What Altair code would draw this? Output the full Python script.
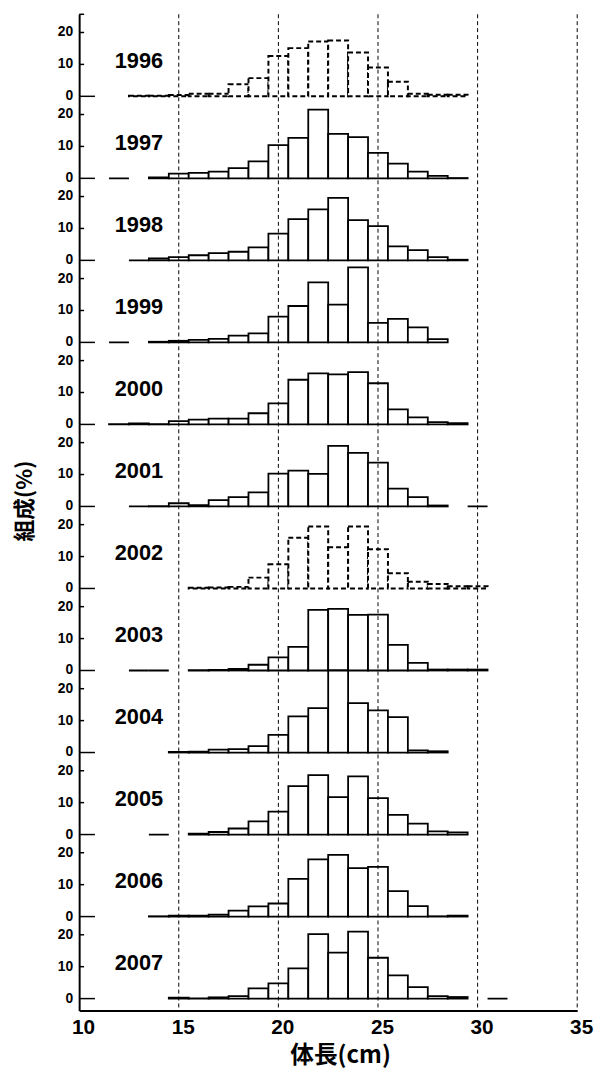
import altair as alt
import pandas as pd

N = None
years = ["1996", "1997", "1998", "1999", "2000", "2001",
         "2002", "2003", "2004", "2005", "2006", "2007"]
dashed_years = ["1996", "2002"]
bins = list(range(12, 32))  # body length class centres (cm)

v1996 = [N, 0.2, 0.2, 0.4, 0.8, 0.8, 3.8, 5.7, 12.6, 15.1, 17.2, 17.5, 13.7, 9.0, 4.6, 0.8, 0.5, 0.5, N, N]
v1997 = [0, N, 0.3, 1.5, 1.7, 2.1, 3.2, 5.3, 10.4, 12.7, 21.5, 13.9, 12.9, 8.0, 4.6, 2.1, 0.8, 0.1, N, N]
v1998 = [N, 0, 0.6, 1.0, 1.6, 2.3, 2.7, 4.1, 8.4, 12.9, 16.0, 19.6, 12.6, 10.7, 4.4, 3.2, 1.0, 0.2, N, N]
v1999 = [0, N, 0.2, 0.5, 0.8, 1.1, 2.1, 2.8, 8.1, 11.4, 18.8, 11.8, 23.5, 6.1, 7.4, 4.7, 1.0, N, N, N]
v2000 = [0.1, 0.3, 0.1, 1.0, 1.5, 1.8, 1.8, 3.5, 6.6, 14.0, 16.0, 15.7, 16.4, 12.9, 4.7, 2.2, 0.7, 0.4, N, N]
v2001 = [N, 0, 0.1, 1.0, 0.4, 2.0, 2.9, 4.4, 10.3, 11.2, 10.2, 19.0, 16.8, 13.7, 5.6, 2.9, 0.3, N, 0, N]
v2002 = [N, N, N, N, 0.2, 0.3, 0.5, 3.4, 7.6, 15.9, 19.4, 12.9, 19.4, 12.3, 4.8, 2.1, 1.4, 0.7, 0.7, N]
v2003 = [N, 0, 0, N, 0.1, 0.2, 0.5, 1.8, 4.1, 7.4, 19.0, 19.3, 17.4, 17.5, 8.0, 2.4, 0.3, 0.3, 0.3, N]
v2004 = [N, N, N, 0.2, 0.3, 0.9, 1.1, 2.0, 5.5, 11.3, 13.9, 25.7, 15.5, 13.2, 11.1, 0.7, 0.4, N, N, N]
v2005 = [N, N, 0, N, 0.3, 0.8, 1.9, 4.1, 7.2, 15.2, 18.6, 11.7, 18.2, 11.4, 6.2, 3.4, 1.0, 0.7, N, N]
v2006 = [N, N, 0.1, 0.3, 0.3, 0.6, 1.9, 3.2, 4.1, 11.8, 17.9, 19.3, 15.2, 15.6, 8.0, 3.3, 0.1, 0.3, N, N]
v2007 = [N, N, N, 0.3, 0.05, 0.4, 0.8, 3.2, 4.8, 9.5, 20.2, 14.4, 21.0, 12.8, 7.3, 3.6, 0.8, 0.5, N, 0]

series = [v1996, v1997, v1998, v1999, v2000, v2001,
          v2002, v2003, v2004, v2005, v2006, v2007]

y_ticks = [0, 10, 20]
x_ticks = [10, 15, 20, 25, 30, 35]
ref_lines = [15, 20, 25, 30, 35]

# ---- layout constants (panel stacking) ----
P = 25.7                     # height of one panel in % units
YMIN, YMAX = -3.7, 12 * P
LABEL_X, LABEL_Y = 13.0, 11.0

offsets = {y: (len(years) - 1 - i) * P for i, y in enumerate(years)}

rows = []
for y, vals in zip(years, series):
    off = offsets[y]
    for b, v in zip(bins, vals):
        if v is None:
            continue
        rows.append({"year": y, "x0": b - 0.5, "x1": b + 0.5,
                     "base": off, "top": off + v,
                     "style": "dashed" if y in dashed_years else "solid"})
bars_df = pd.DataFrame(rows)

labels_df = pd.DataFrame({"year": years,
                          "lx": [LABEL_X] * len(years),
                          "ly": [offsets[y] + LABEL_Y for y in years]})

ytick_df = pd.DataFrame([{"pos": offsets[y] + t, "lab": str(t)} for y in years for t in y_ticks])
short_ticks = sorted([offsets[y] + t for y in years for t in y_ticks if t > 0] + [YMAX])
zero_ticks = sorted([offsets[y] for y in years])

xs = alt.Scale(domain=[10, 35], nice=False, zero=False)
ys = alt.Scale(domain=[YMIN, YMAX], nice=False, zero=False)

x_axis = alt.Axis(values=x_ticks, format="d", ticks=False, tickSize=0, grid=False,
                  domainColor="black", domainWidth=2, labelFlush=False, labelOverlap=False,
                  labelFont="Liberation Sans", labelFontSize=21, labelFontWeight="bold",
                  labelColor="black", labelPadding=6, labelOffset=4,
                  title="体長(cm)", titleFont="Noto Sans CJK JP", titleFontSize=24,
                  titleFontWeight="bold", titleColor="black",
                  titleX=264, titleY=46, titleAlign="center", titleBaseline="middle")
y_axis = alt.Axis(labels=False, ticks=False, tickSize=0, grid=False,
                  domainColor="black", domainWidth=2,
                  title="組成(%)", titleFont="Noto Sans CJK JP", titleFontSize=22,
                  titleFontWeight="bold", titleColor="black", titleAngle=270,
                  titleX=-55, titleY=492, titleAlign="center", titleBaseline="middle")

base = alt.Chart(bars_df)

bars_solid = base.transform_filter(alt.datum.style == "solid").mark_rect(
    fill="white", stroke="black", strokeWidth=1.8).encode(
    x=alt.X("x0:Q", scale=xs, axis=x_axis),
    x2="x1:Q",
    y=alt.Y("base:Q", scale=ys, axis=y_axis),
    y2="top:Q",
)

bars_dashed = base.transform_filter(alt.datum.style == "dashed").mark_rect(
    fill="white", stroke="black", strokeWidth=2, strokeDash=[5, 3]).encode(
    x=alt.X("x0:Q", scale=xs, axis=x_axis),
    x2="x1:Q",
    y=alt.Y("base:Q", scale=ys, axis=y_axis),
    y2="top:Q",
)

vlines = alt.Chart(pd.DataFrame({"v": ref_lines})).mark_rule(
    color="black", strokeWidth=1, strokeDash=[4, 3]).encode(
    x=alt.X("v:Q", scale=xs, axis=x_axis))

labels = alt.Chart(labels_df).mark_text(
    font="Liberation Sans", fontSize=22, fontWeight="bold", color="black",
    align="center", baseline="middle").encode(
    x=alt.X("lx:Q", scale=xs, axis=x_axis), y=alt.Y("ly:Q", scale=ys, axis=y_axis),
    text="year:N")

ytick_labels = alt.Chart(ytick_df).mark_text(
    font="Liberation Sans", fontSize=14, fontWeight="bold", color="black",
    align="right", baseline="middle").encode(
    x=alt.value(-6), y=alt.Y("pos:Q", scale=ys, axis=y_axis), text="lab:N")

tick_short = alt.Chart(pd.DataFrame({"t": short_ticks})).mark_rule(
    color="black", strokeWidth=1.5).encode(
    y=alt.Y("t:Q", scale=ys, axis=y_axis), x=alt.value(0), x2=alt.value(5))

tick_zero = alt.Chart(pd.DataFrame({"t": zero_ticks})).mark_rule(
    color="black", strokeWidth=1.5).encode(
    y=alt.Y("t:Q", scale=ys, axis=y_axis), x=alt.value(0), x2=alt.value(16))

chart = alt.layer(bars_solid, bars_dashed, vlines, labels, ytick_labels,
                  tick_short, tick_zero).properties(
    width=504, height=1008,
    padding={"left": 72, "top": 0, "right": 18, "bottom": 60},
    autosize=alt.AutoSizeParams(type="none"),
    background="white",
).configure_view(stroke=None)

chart.save("out.html", embed_options={"renderer": "svg", "actions": False})
